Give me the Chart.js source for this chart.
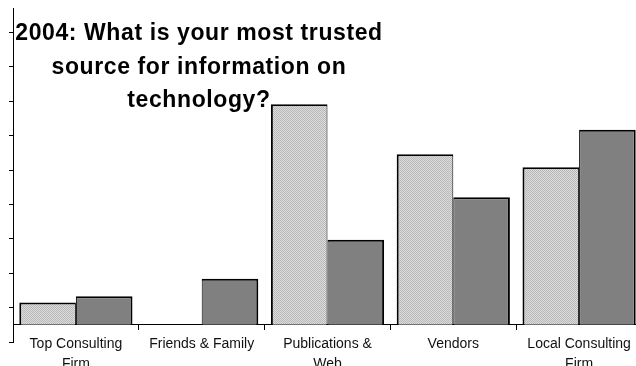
<!DOCTYPE html>
<html>
<head>
<meta charset="utf-8">
<script src="https://cdn.jsdelivr.net/npm/chart.js@4/dist/chart.umd.min.js"></script>
<style>
    html, body { margin: 0; padding: 0; background: #fff; overflow: hidden; }
    #wrap { position: relative; width: 642px; height: 366px; }
    #title {
        position: absolute; left: 0; top: 16px; width: 398px;
        text-align: center; pointer-events: none;
        font: bold 23px "Liberation Sans", Arial, sans-serif;
        letter-spacing: 0.6px; line-height: 33.5px; color: #000;
    }
</style>
</head>
<body>
<div id="wrap">
    <canvas id="sourceChart"></canvas>
    <div id="title">2004: What is your most trusted<br>source for information on<br>technology?</div>
</div>
<script>
// Survey answers per source
const categories = [
    ['Top Consulting', 'Firm'],
    'Friends & Family',
    ['Publications &', 'Web'],
    'Vendors',
    ['Local Consulting', 'Firm']
];
const lightValues = [6.5, 0, 64.1, 49.6, 45.8];
const darkValues = [8.3, 13.4, 24.7, 37.1, 56.7];
const yTicks = [-5, 5, 15, 25, 35, 45, 55, 65, 75, 85];

// Fine stipple fill for the light bars
function makeStipple() {
    const c = document.createElement('canvas');
    c.width = 2;
    c.height = 2;
    const g = c.getContext('2d');
    g.fillStyle = '#dcdcdc';
    g.fillRect(0, 0, 2, 2);
    g.fillStyle = '#b8b8b8';
    g.fillRect(0, 0, 1, 1);
    g.fillRect(1, 1, 1, 1);
    return g.createPattern(c, 'repeat');
}

// no outline on empty bars
function edges(left, right) {
    return ctx => ctx.raw ? { top: 2, left: left, right: right, bottom: 0 } : 0;
}

function createSourceChart() {
    const ctx = document.getElementById('sourceChart').getContext('2d');

    new Chart(ctx, {
        type: 'bar',
        data: {
            labels: categories,
            datasets: [{
                label: 'Series 1',
                data: lightValues,
                backgroundColor: makeStipple(),
                borderColor: '#000',
                borderWidth: edges(2, 1),
                borderSkipped: false
            }, {
                label: 'Series 2',
                data: darkValues,
                backgroundColor: '#808080',
                borderColor: '#000',
                borderWidth: edges(1, 2),
                borderSkipped: false
            }]
        },
        options: {
            responsive: true,
            maintainAspectRatio: false,
            animation: false,
            layout: { padding: { left: 9, right: 0, top: 8, bottom: 24 } },
            datasets: {
                bar: { categoryPercentage: 0.9, barPercentage: 1.0 }
            },
            plugins: {
                legend: { display: false },
                title: { display: false },
                tooltip: { enabled: false }
            },
            scales: {
                x: {
                    position: { y: 0 },
                    afterFit: scale => { scale.height = 0; },
                    grid: {
                        display: true,
                        offset: true,
                        drawOnChartArea: false,
                        drawTicks: true,
                        tickLength: 5,
                        color: '#000'
                    },
                    border: { display: true, color: '#000', width: 1 },
                    ticks: {
                        color: '#111',
                        padding: 5,
                        maxRotation: 0,
                        autoSkip: false,
                        font: { family: '"Liberation Sans", Arial, sans-serif', size: 14, lineHeight: '19.5px' }
                    }
                },
                y: {
                    min: -5,
                    max: 92.1,
                    afterBuildTicks: scale => {
                        scale.ticks = yTicks.map(v => ({ value: v }));
                    },
                    grid: {
                        display: true,
                        drawOnChartArea: false,
                        drawTicks: true,
                        tickLength: 4,
                        color: '#000'
                    },
                    border: { display: true, color: '#000', width: 1 },
                    ticks: { display: false }
                }
            }
        }
    });
}

window.onload = () => {
    createSourceChart();
};
</script>
</body>
</html>
